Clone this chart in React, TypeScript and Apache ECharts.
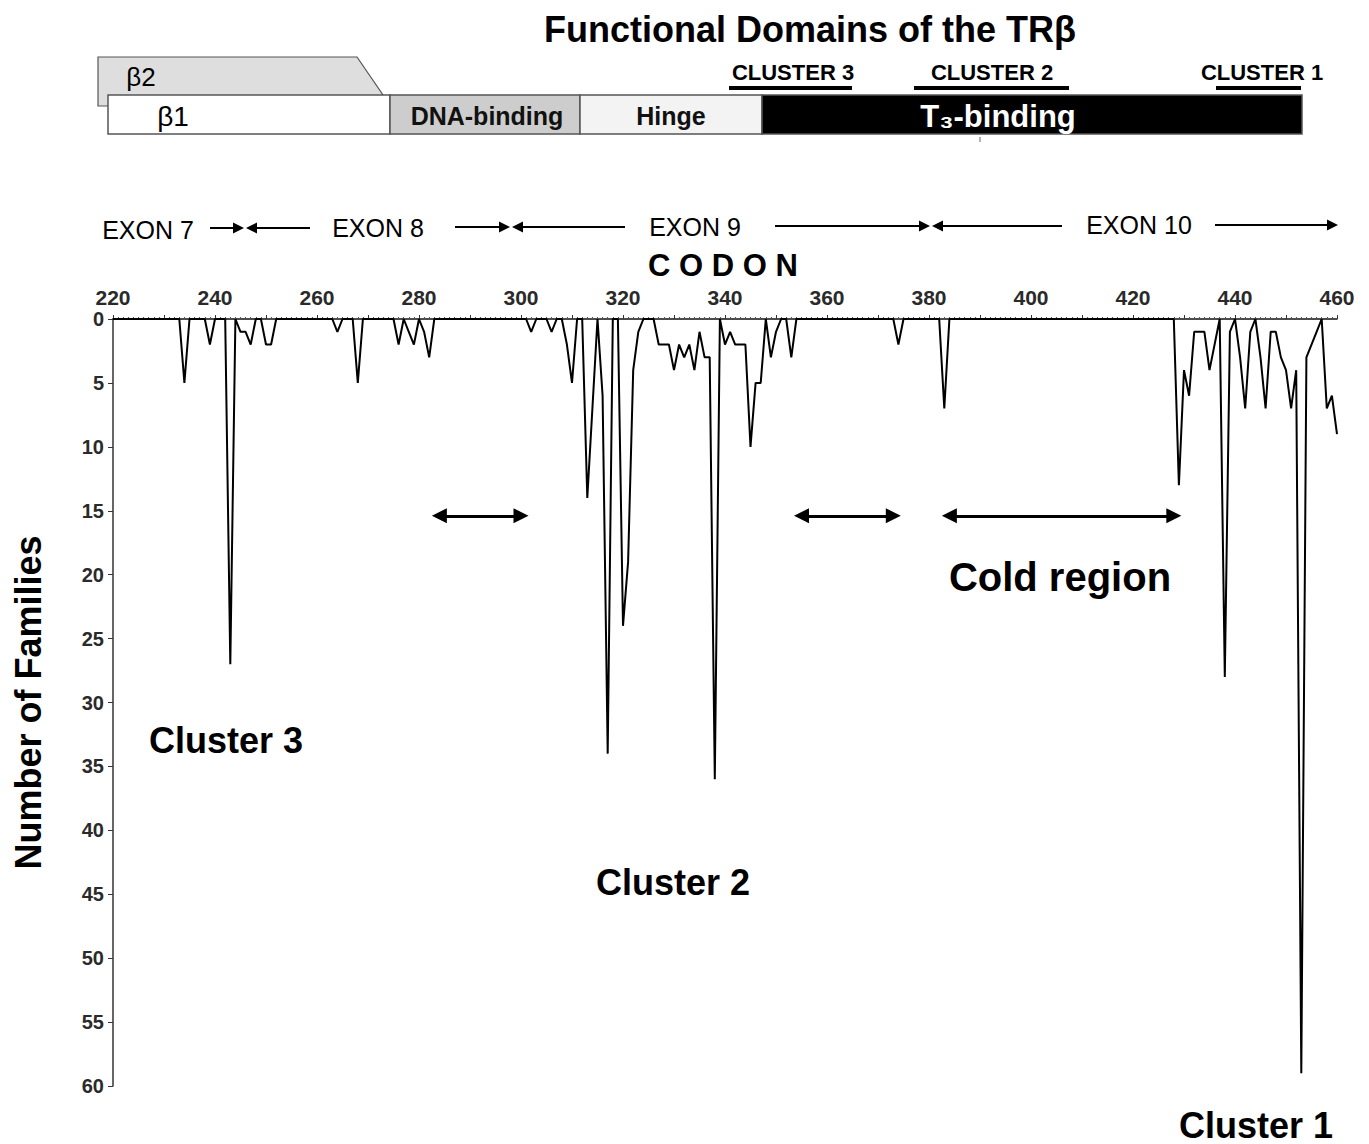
import React, { useEffect, useRef } from "react";
import * as echarts from "echarts";

// Number of families with mutations per codon (TRβ), codons 220..460
const families220to259 = [0,0,0,0,0,0,0,0,0,0, 0,0,0,0,5,0,0,0,0,2, 0,0,0,27,0,1,1,2,0,0, 2,2,0,0,0,0,0,0,0,0];
const families260to299 = [0,0,0,0,1,0,0,0,5,0, 0,0,0,0,0,0,2,0,1,2, 0,1,3,0,0,0,0,0,0,0, 0,0,0,0,0,0,0,0,0,0];
const families300to339 = [0,0,1,0,0,0,1,0,0,2, 5,0,0,14,7,0,6,34,0,0, 24,19,4,1,0,0,0,2,2,2, 4,2,3,2,4,1,3,3,36,0];
const families340to379 = [2,1,2,2,2,10,5,5,0,3, 1,0,0,3,0,0,0,0,0,0, 0,0,0,0,0,0,0,0,0,0, 0,0,0,0,2,0,0,0,0,0];
const families380to419 = [0,0,0,7,0,0,0,0,0,0, 0,0,0,0,0,0,0,0,0,0, 0,0,0,0,0,0,0,0,0,0, 0,0,0,0,0,0,0,0,0,0];
const families420to460 = [0,0,0,0,0,0,0,0,0,13, 4,6,1,1,1,4,2,0,28,1, 0,3,7,1,0,3,7,1,1,3, 4,7,4,59,3,2,1,0,7,6, 9];

const segmentStarts = [220, 260, 300, 340, 380, 420];
const segments = [families220to259, families260to299, families300to339, families340to379, families380to419, families420to460];

// Cold-region double arrows (codon spans) at this depth
const coldArrowSpans = [[284, 300], [355, 373], [384, 428]];
const coldArrowDepth = 15.4;

const xTickLabels = [220, 240, 260, 280, 300, 320, 340, 360, 380, 400, 420, 440, 460];

const FONT = '"Liberation Sans", Arial, "DejaVu Sans", sans-serif';

function txt(text: string, x: number, y: number, size: number, weight: string, fill = "#000", extra: any = {}) {
  return {
    type: "text",
    silent: true,
    style: {
      text, x, y, fill,
      fontSize: size, fontWeight: weight, fontFamily: FONT,
      align: "center", verticalAlign: "middle",
      textAlign: "center", textVerticalAlign: "middle",
      ...extra,
    },
  };
}

function hArrow(x1: number, x2: number, y: number, dir: "right" | "left") {
  const head = 11;
  const half = 5.5;
  const els: any[] = [];
  if (dir === "right") {
    els.push({ type: "line", silent: true, shape: { x1, y1: y, x2: x2 - head + 1, y2: y }, style: { stroke: "#000", lineWidth: 2 } });
    els.push({ type: "polygon", silent: true, shape: { points: [[x2, y], [x2 - head, y - half], [x2 - head, y + half]] }, style: { fill: "#000" } });
  } else {
    els.push({ type: "line", silent: true, shape: { x1: x1 + head - 1, y1: y, x2, y2: y }, style: { stroke: "#000", lineWidth: 2 } });
    els.push({ type: "polygon", silent: true, shape: { points: [[x1, y], [x1 + head, y - half], [x1 + head, y + half]] }, style: { fill: "#000" } });
  }
  return els;
}

export default function App() {
  const ref = useRef<HTMLDivElement>(null);
  useEffect(() => {
    if (!ref.current) return;
    const chart = echarts.init(ref.current, undefined, { renderer: "svg" });

    const data: number[][] = [];
    segments.forEach((arr, si) => {
      arr.forEach((v, i) => data.push([segmentStarts[si] + i, v]));
    });

    const graphics: any[] = [
      txt("Functional Domains of the TRβ", 810, 29, 36, "bold"),
      // β2 shape
      {
        type: "polygon", silent: true,
        shape: { points: [[98, 57], [357, 57], [383, 95], [383, 106], [98, 106]] },
        style: { fill: "#dedede", stroke: "#555", lineWidth: 1.2 },
      },
      txt("β2", 141, 77, 26, "normal"),
      { type: "rect", silent: true, shape: { x: 108, y: 95, width: 282, height: 39 }, style: { fill: "#fff", stroke: "#555", lineWidth: 1.5 } },
      txt("β1", 173, 116, 28, "normal"),
      { type: "rect", silent: true, shape: { x: 390, y: 95, width: 190, height: 39 }, style: { fill: "#cdcdcd", stroke: "#555", lineWidth: 1.5 } },
      txt("DNA-binding", 487, 116, 25, "bold", "#111"),
      { type: "rect", silent: true, shape: { x: 580, y: 95, width: 182, height: 39 }, style: { fill: "#f3f3f3", stroke: "#555", lineWidth: 1.5 } },
      txt("Hinge", 671, 116, 25, "bold", "#111"),
      { type: "rect", silent: true, shape: { x: 762, y: 95, width: 540, height: 39 }, style: { fill: "#000", stroke: "#555", lineWidth: 1.5 } },
      txt("T₃-binding", 998, 116, 31, "bold", "#fff"),
      { type: "line", silent: true, shape: { x1: 980, y1: 137, x2: 980, y2: 142 }, style: { stroke: "#666", lineWidth: 1 } },
      txt("CLUSTER 3", 793, 72, 22, "bold"),
      txt("CLUSTER 2", 992, 72, 22, "bold"),
      txt("CLUSTER 1", 1262, 72, 22, "bold"),
      { type: "line", silent: true, shape: { x1: 729, y1: 88, x2: 852, y2: 88 }, style: { stroke: "#000", lineWidth: 4 } },
      { type: "line", silent: true, shape: { x1: 914, y1: 88, x2: 1069, y2: 88 }, style: { stroke: "#000", lineWidth: 4 } },
      { type: "line", silent: true, shape: { x1: 1216, y1: 88, x2: 1301, y2: 88 }, style: { stroke: "#000", lineWidth: 4 } },
      // exon row
      txt("EXON 7", 148, 230, 25, "normal"),
      ...hArrow(210, 244, 228, "right"),
      ...hArrow(246, 310, 228, "left"),
      txt("EXON 8", 378, 228, 25, "normal"),
      ...hArrow(455, 510, 227, "right"),
      ...hArrow(512, 625, 227, "left"),
      txt("EXON 9", 695, 227, 25, "normal"),
      ...hArrow(775, 930, 226, "right"),
      ...hArrow(932, 1062, 226, "left"),
      txt("EXON 10", 1139, 225, 25, "normal"),
      ...hArrow(1215, 1338, 225, "right"),
      txt("C O D O N", 723, 265, 31, "bold"),
      // annotations
      txt("Cluster 3", 226, 740, 36, "bold"),
      txt("Cluster 2", 673, 882, 36, "bold"),
      txt("Cluster 1", 1256, 1125, 36, "bold"),
      txt("Cold region", 1060, 577, 40, "bold"),
    ];

    chart.setOption({
      animation: false,
      backgroundColor: "#fff",
      grid: { left: 113, top: 319, right: 32, bottom: 58, containLabel: false, outerBoundsMode: "none" },
      xAxis: {
        type: "value",
        min: 220,
        max: 460,
        interval: 10,
        position: "top",
        axisLine: { show: true, lineStyle: { color: "#111", width: 1.5 } },
        axisTick: { show: true, inside: false, length: 4, lineStyle: { color: "#333" } },
        minorTick: { show: true, splitNumber: 10, length: 2, lineStyle: { color: "#555" } },
        splitLine: { show: false },
        axisLabel: {
          margin: 11,
          fontSize: 21,
          fontWeight: "bold",
          color: "#2a2a2a",
          fontFamily: FONT,
          formatter: (v: number) => (xTickLabels.indexOf(v) >= 0 ? String(v) : ""),
        },
      },
      yAxis: {
        type: "value",
        inverse: true,
        min: 0,
        max: 60,
        interval: 5,
        name: "Number of Families",
        nameLocation: "middle",
        nameGap: 67,
        nameRotate: 90,
        nameTextStyle: { fontSize: 36, fontWeight: "bold", color: "#000", fontFamily: FONT },
        axisLine: { show: true, lineStyle: { color: "#333", width: 1.5 } },
        axisTick: { show: true, inside: false, length: 5, lineStyle: { color: "#333" } },
        splitLine: { show: false },
        axisLabel: { margin: 9, fontSize: 20, fontWeight: "bold", color: "#2a2a2a", fontFamily: FONT },
      },
      series: [
        {
          type: "line",
          data,
          showSymbol: false,
          symbol: "none",
          lineStyle: { color: "#000", width: 2 },
          silent: true,
          markLine: {
            silent: true,
            symbol: ["triangle", "triangle"],
            symbolSize: [15, 15],
            label: { show: false },
            lineStyle: { color: "#000", width: 3, type: "solid" },
            emphasis: { disabled: true },
            data: coldArrowSpans.map(([a, b]) => [
              { coord: [a, coldArrowDepth] },
              { coord: [b, coldArrowDepth] },
            ]),
          },
        },
      ],
      graphic: graphics,
    });

    return () => chart.dispose();
  }, []);

  return (
    <div
      ref={ref}
      style={{ position: "fixed", left: 0, top: 0, width: 1369, height: 1144, background: "#fff" }}
    />
  );
}
